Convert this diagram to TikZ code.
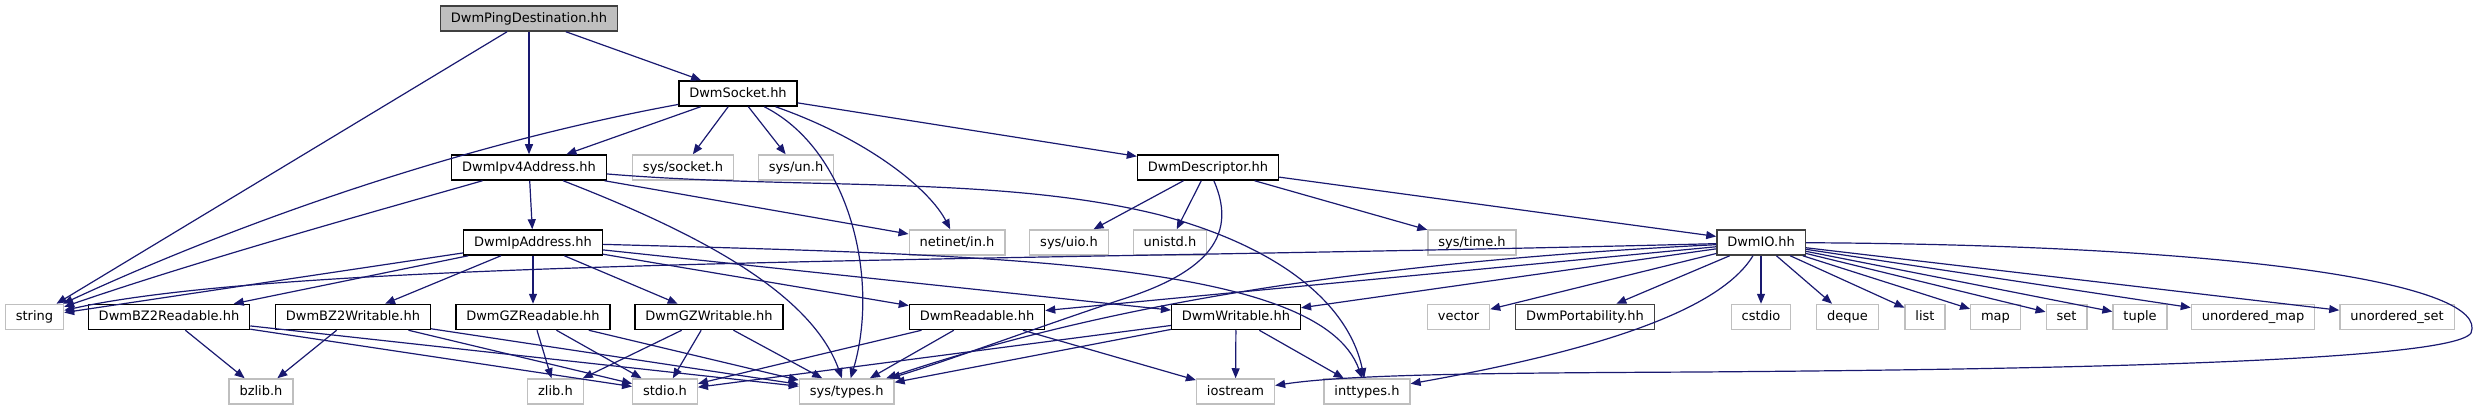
\documentclass[tikz,border=0pt]{standalone}
\usepackage{fontspec}
\setmainfont{DejaVu Sans}
\usetikzlibrary{arrows.meta}

\definecolor{depblue}{RGB}{25,25,112}
\definecolor{extgray}{RGB}{191,191,191}
\definecolor{rootfill}{RGB}{191,191,191}
\definecolor{rootline}{RGB}{64,64,64}

\tikzset{every picture/.style={line width=0.5pt}}
\tikzset{
  hdr/.style={draw=black, line width=0.65pt, fill=white, font=\fontsize{6.5}{7}\selectfont,
    inner xsep=5.2pt, inner ysep=0pt, minimum height=12.6pt, text height=4.9pt, text depth=1.3pt},
  syshdr/.style={hdr, draw=extgray},
  greyhdr/.style={hdr, draw=rootline},
  roothdr/.style={hdr, fill=rootfill, draw=rootline},
  dep/.style={draw=depblue, line width=0.6pt, -{Triangle[length=5pt,width=4pt]}}
}

\begin{document}
\begin{tikzpicture}[x=0.5pt,y=0.5pt,yscale=-1,xscale=1]
\useasboundingbox (0,0) rectangle (2478,411);

% Nodes, row by row
\node [roothdr] (pingdest) at (529,18.5) {DwmPingDestination.hh};

\node [hdr] (socket) at (738,93.5) {DwmSocket.hh};

\node [hdr] (ipvfour) at (529,167.5) {DwmIpv4Address.hh};
\node [syshdr] (syssocket) at (683,167.5) {sys/socket.h};
\node [syshdr] (sysun) at (796,167.5) {sys/un.h};
\node [hdr] (descriptor) at (1208,167.5) {DwmDescriptor.hh};

\node [hdr] (ipaddr) at (533,242.5) {DwmIpAddress.hh};
\node [syshdr] (netinet) at (957,242.5) {netinet/in.h};
\node [syshdr] (sysuio) at (1069,242.5) {sys/uio.h};
\node [syshdr] (unistd) at (1170,242.5) {unistd.h};
\node [syshdr] (systime) at (1472,242.5) {sys/time.h};
\node [greyhdr] (dwmio) at (1761,242.5) {DwmIO.hh};

\node [syshdr] (string) at (34.5,317) {string};
\node [hdr] (bzread) at (169,317) {DwmBZ2Readable.hh};
\node [hdr] (bzwrite) at (353,317) {DwmBZ2Writable.hh};
\node [hdr] (gzread) at (533,317) {DwmGZReadable.hh};
\node [hdr] (gzwrite) at (709,317) {DwmGZWritable.hh};
\node [hdr] (readable) at (977,317) {DwmReadable.hh};
\node [hdr] (writable) at (1236,317) {DwmWritable.hh};
\node [syshdr] (vector) at (1458.5,317) {vector};
\node [greyhdr] (portab) at (1585,317) {DwmPortability.hh};
\node [syshdr] (cstdio) at (1761,317) {cstdio};
\node [syshdr] (deque) at (1847.5,317) {deque};
\node [syshdr] (list) at (1925,317) {list};
\node [syshdr] (map) at (1995.5,317) {map};
\node [syshdr] (set) at (2066.5,317) {set};
\node [syshdr] (tuple) at (2140,317) {tuple};
\node [syshdr] (umap) at (2253,317) {unordered\_map};
\node [syshdr] (uset) at (2397,317) {unordered\_set};

\node [syshdr] (bzlib) at (261,391.5) {bzlib.h};
\node [syshdr] (zlib) at (555.5,391.5) {zlib.h};
\node [syshdr] (stdio) at (665,391.5) {stdio.h};
\node [syshdr] (systypes) at (846.7,391.5) {sys/types.h};
\node [syshdr] (iostream) at (1235.5,391.5) {iostream};
\node [syshdr] (inttypes) at (1367,391.5) {inttypes.h};

% DwmPingDestination.hh
\draw [dep] (pingdest) -- (string);
\draw [dep] (pingdest) -- (ipvfour);
\draw [dep] (pingdest) -- (socket);

% DwmSocket.hh
\draw [dep] (socket) .. controls (430,150) and (200,240) .. (string);
\draw [dep] (socket) -- (ipvfour);
\draw [dep] (socket) -- (syssocket);
\draw [dep] (socket) -- (sysun);
\draw [dep] (socket) .. controls (850,150) and (880,280) .. (systypes);
\draw [dep] (socket) .. controls (870,140) and (930,190) .. (netinet);
\draw [dep] (socket) -- (descriptor);

% DwmIpv4Address.hh
\draw [dep] (ipvfour) .. controls (380,210) and (200,260) .. (string);
\draw [dep] (ipvfour) -- (ipaddr);
\draw [dep] (ipvfour) .. controls (690,230) and (810,290) .. (systypes);
\draw [dep] (ipvfour) -- (netinet);
\draw [dep] (ipvfour) .. controls (800,190) and (1000,175) .. (1160,215) .. controls (1290,250) and (1350,310) .. (inttypes);

% DwmDescriptor.hh
\draw [dep] (descriptor) -- (sysuio);
\draw [dep] (descriptor) -- (unistd);
\draw [dep] (descriptor) .. controls (1240,240) and (1200,275) .. (1120,300) .. controls (1030,330) and (950,360) .. (systypes);
\draw [dep] (descriptor) -- (systime);
\draw [dep] (descriptor) -- (dwmio);

% DwmIpAddress.hh
\draw [dep] (ipaddr) -- (string);
\draw [dep] (ipaddr) -- (bzread);
\draw [dep] (ipaddr) -- (bzwrite);
\draw [dep] (ipaddr) -- (gzread);
\draw [dep] (ipaddr) -- (gzwrite);
\draw [dep] (ipaddr) -- (readable);
\draw [dep] (ipaddr) -- (writable);
\draw [dep] (ipaddr) .. controls (1000,255) and (1320,262) .. (inttypes);

% DwmIO.hh
\draw [dep] (dwmio) .. controls (1000,262) and (300,258) .. (string);
\draw [dep] (dwmio) -- (readable);
\draw [dep] (dwmio) -- (writable);
\draw [dep] (dwmio) .. controls (1300,265) and (1060,320) .. (systypes);
\draw [dep] (dwmio) -- (vector);
\draw [dep] (dwmio) -- (portab);
\draw [dep] (dwmio) -- (cstdio);
\draw [dep] (dwmio) -- (deque);
\draw [dep] (dwmio) -- (list);
\draw [dep] (dwmio) -- (map);
\draw [dep] (dwmio) -- (set);
\draw [dep] (dwmio) -- (tuple);
\draw [dep] (dwmio) -- (umap);
\draw [dep] (dwmio) -- (uset);
\draw [dep] (dwmio) .. controls (2250,245) and (2490,285) .. (2471,333) .. controls (2450,365) and (1950,370) .. (1700,372) .. controls (1500,373) and (1350,374) .. (iostream);
\draw [dep] (dwmio) .. controls (1720,310) and (1600,350) .. (inttypes);

% readers and writers
\draw [dep] (bzread) -- (bzlib);
\draw [dep] (bzread) -- (stdio);
\draw [dep] (bzread) -- (systypes);
\draw [dep] (bzwrite) -- (bzlib);
\draw [dep] (bzwrite) -- (stdio);
\draw [dep] (bzwrite) -- (systypes);
\draw [dep] (gzread) -- (zlib);
\draw [dep] (gzread) -- (stdio);
\draw [dep] (gzread) -- (systypes);
\draw [dep] (gzwrite) -- (zlib);
\draw [dep] (gzwrite) -- (stdio);
\draw [dep] (gzwrite) -- (systypes);
\draw [dep] (readable) -- (stdio);
\draw [dep] (readable) -- (systypes);
\draw [dep] (readable) -- (iostream);
\draw [dep] (writable) -- (stdio);
\draw [dep] (writable) -- (systypes);
\draw [dep] (writable) -- (iostream);
\draw [dep] (writable) -- (inttypes);

\end{tikzpicture}
\end{document}
